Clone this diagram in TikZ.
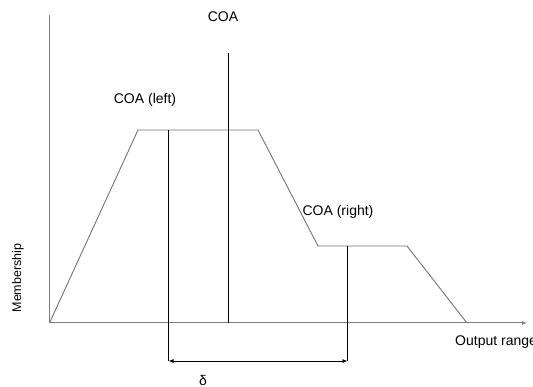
\documentclass[tikz,border=0pt]{standalone}
\usepackage{fontspec}
\setmainfont{Liberation Sans}
\usetikzlibrary{arrows.meta}

\begin{document}
\begin{tikzpicture}[x=1pt,y=-1pt,>={Latex[length=5pt,width=4pt]},
    font=\fontsize{14}{16}\selectfont]
  \useasboundingbox (0,0) rectangle (533,387);
  % axes
  \coordinate (o) at (49.5,323);
  \coordinate (ytop) at (49.5,15);
  \coordinate (xend) at (527,323);
  \draw[gray, line width=1pt] (ytop) -- (o);
  \draw[->, gray, line width=1pt] (o) -- (xend);
  % membership function
  \coordinate (p1) at (138,130);
  \coordinate (p2) at (258,130);
  \coordinate (p3) at (318,246);
  \coordinate (p4) at (407,246);
  \coordinate (p5) at (467,323);
  \draw[gray!90!black, line width=0.9pt] (o) -- (p1) -- (p2) -- (p3) -- (p4) -- (p5);
  % centre of area lines
  \coordinate (ltop) at (168.5,130);
  \coordinate (lbot) at (168.5,361);
  \coordinate (ctop) at (228.5,53);
  \coordinate (cbot) at (228.5,323);
  \coordinate (rtop) at (347.5,246);
  \coordinate (rbot) at (347.5,361);
  \draw[black, line width=0.8pt] (ltop) -- (lbot);
  \draw[black, line width=0.8pt] (ctop) -- (cbot);
  \draw[black, line width=0.8pt] (rtop) -- (rbot);
  \draw[<->, black, line width=0.8pt] (lbot) -- (rbot);
  % labels
  \node (coa) at (223,17) {COA};
  \node (coaleft) at (145,100) {COA (left)};
  \node (coaright) at (338,212) {COA (right)};
  \node[inner sep=0pt] (delta) at (203,380) {δ};
  \node[anchor=base west, inner sep=0pt] (range) at (455,346) {Output range};
  \node[rotate=90, font=\fontsize{12.5}{14}\selectfont] (member) at (18,278) {Membership};
\end{tikzpicture}
\end{document}
